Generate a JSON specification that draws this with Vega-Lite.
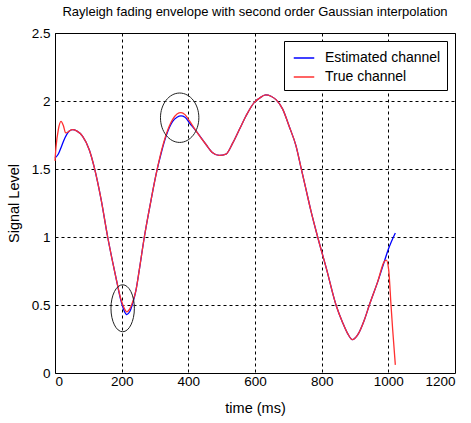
{
  "$schema": "https://vega.github.io/schema/vega-lite/v6.json",
  "width": 400,
  "height": 340,
  "autosize": {"type": "none"},
  "padding": {"left": 55, "top": 33, "right": 16, "bottom": 50},
  "background": "white",
  "title": {
    "text": "Rayleigh fading envelope with second order Gaussian interpolation",
    "font": "Liberation Sans",
    "fontSize": 13,
    "fontWeight": "normal",
    "color": "black",
    "anchor": "middle",
    "offset": 7
  },
  "config": {
    "view": {"stroke": "black", "strokeWidth": 1},
    "axis": {
      "domain": false,
      "ticks": false,
      "grid": true,
      "gridColor": "black",
      "gridDash": [3, 3],
      "gridWidth": 1,
      "gridOpacity": 1,
      "labelFont": "Liberation Sans",
      "labelFontSize": 13.5,
      "labelColor": "black",
      "titleFont": "Liberation Sans",
      "titleFontSize": 14.5,
      "titleFontWeight": "normal",
      "titleColor": "black"
    },
    "legend": {
      "labelFont": "Liberation Sans",
      "labelFontSize": 14,
      "labelColor": "black"
    }
  },
  "datasets": {
    "curves": [
      {"t": 0, "v": 1.58, "series": "Estimated channel"},
      {"t": 10, "v": 1.61, "series": "Estimated channel"},
      {"t": 20, "v": 1.67, "series": "Estimated channel"},
      {"t": 30, "v": 1.73, "series": "Estimated channel"},
      {"t": 43, "v": 1.78, "series": "Estimated channel"},
      {"t": 53, "v": 1.79, "series": "Estimated channel"},
      {"t": 65, "v": 1.78, "series": "Estimated channel"},
      {"t": 83, "v": 1.74, "series": "Estimated channel"},
      {"t": 103, "v": 1.64, "series": "Estimated channel"},
      {"t": 118, "v": 1.51, "series": "Estimated channel"},
      {"t": 138, "v": 1.28, "series": "Estimated channel"},
      {"t": 158, "v": 1.0, "series": "Estimated channel"},
      {"t": 183, "v": 0.7, "series": "Estimated channel"},
      {"t": 198, "v": 0.53, "series": "Estimated channel"},
      {"t": 207, "v": 0.46, "series": "Estimated channel"},
      {"t": 215, "v": 0.43, "series": "Estimated channel"},
      {"t": 224, "v": 0.45, "series": "Estimated channel"},
      {"t": 234, "v": 0.52, "series": "Estimated channel"},
      {"t": 243, "v": 0.61, "series": "Estimated channel"},
      {"t": 253, "v": 0.76, "series": "Estimated channel"},
      {"t": 268, "v": 1.0, "series": "Estimated channel"},
      {"t": 288, "v": 1.27, "series": "Estimated channel"},
      {"t": 305, "v": 1.48, "series": "Estimated channel"},
      {"t": 320, "v": 1.63, "series": "Estimated channel"},
      {"t": 333, "v": 1.74, "series": "Estimated channel"},
      {"t": 353, "v": 1.85, "series": "Estimated channel"},
      {"t": 366, "v": 1.88, "series": "Estimated channel"},
      {"t": 378, "v": 1.89, "series": "Estimated channel"},
      {"t": 390, "v": 1.88, "series": "Estimated channel"},
      {"t": 403, "v": 1.84, "series": "Estimated channel"},
      {"t": 423, "v": 1.78, "series": "Estimated channel"},
      {"t": 453, "v": 1.68, "series": "Estimated channel"},
      {"t": 473, "v": 1.62, "series": "Estimated channel"},
      {"t": 493, "v": 1.6, "series": "Estimated channel"},
      {"t": 513, "v": 1.61, "series": "Estimated channel"},
      {"t": 533, "v": 1.69, "series": "Estimated channel"},
      {"t": 553, "v": 1.79, "series": "Estimated channel"},
      {"t": 573, "v": 1.89, "series": "Estimated channel"},
      {"t": 598, "v": 1.99, "series": "Estimated channel"},
      {"t": 613, "v": 2.02, "series": "Estimated channel"},
      {"t": 632, "v": 2.045, "series": "Estimated channel"},
      {"t": 648, "v": 2.035, "series": "Estimated channel"},
      {"t": 663, "v": 2.01, "series": "Estimated channel"},
      {"t": 683, "v": 1.94, "series": "Estimated channel"},
      {"t": 703, "v": 1.81, "series": "Estimated channel"},
      {"t": 723, "v": 1.67, "series": "Estimated channel"},
      {"t": 738, "v": 1.51, "series": "Estimated channel"},
      {"t": 753, "v": 1.35, "series": "Estimated channel"},
      {"t": 768, "v": 1.19, "series": "Estimated channel"},
      {"t": 788, "v": 1.0, "series": "Estimated channel"},
      {"t": 815, "v": 0.76, "series": "Estimated channel"},
      {"t": 843, "v": 0.5, "series": "Estimated channel"},
      {"t": 863, "v": 0.37, "series": "Estimated channel"},
      {"t": 878, "v": 0.29, "series": "Estimated channel"},
      {"t": 892, "v": 0.245, "series": "Estimated channel"},
      {"t": 908, "v": 0.28, "series": "Estimated channel"},
      {"t": 928, "v": 0.39, "series": "Estimated channel"},
      {"t": 943, "v": 0.5, "series": "Estimated channel"},
      {"t": 968, "v": 0.67, "series": "Estimated channel"},
      {"t": 988, "v": 0.82, "series": "Estimated channel"},
      {"t": 1000, "v": 0.91, "series": "Estimated channel"},
      {"t": 1021, "v": 1.03, "series": "Estimated channel"},
      {"t": 0, "v": 1.56, "series": "True channel"},
      {"t": 3, "v": 1.66, "series": "True channel"},
      {"t": 10, "v": 1.79, "series": "True channel"},
      {"t": 18, "v": 1.85, "series": "True channel"},
      {"t": 25, "v": 1.82, "series": "True channel"},
      {"t": 32, "v": 1.765, "series": "True channel"},
      {"t": 38, "v": 1.77, "series": "True channel"},
      {"t": 43, "v": 1.78, "series": "True channel"},
      {"t": 53, "v": 1.79, "series": "True channel"},
      {"t": 65, "v": 1.78, "series": "True channel"},
      {"t": 83, "v": 1.74, "series": "True channel"},
      {"t": 103, "v": 1.64, "series": "True channel"},
      {"t": 118, "v": 1.51, "series": "True channel"},
      {"t": 138, "v": 1.28, "series": "True channel"},
      {"t": 158, "v": 1.0, "series": "True channel"},
      {"t": 183, "v": 0.7, "series": "True channel"},
      {"t": 198, "v": 0.54, "series": "True channel"},
      {"t": 207, "v": 0.48, "series": "True channel"},
      {"t": 215, "v": 0.45, "series": "True channel"},
      {"t": 224, "v": 0.47, "series": "True channel"},
      {"t": 234, "v": 0.53, "series": "True channel"},
      {"t": 243, "v": 0.61, "series": "True channel"},
      {"t": 253, "v": 0.76, "series": "True channel"},
      {"t": 268, "v": 1.0, "series": "True channel"},
      {"t": 288, "v": 1.27, "series": "True channel"},
      {"t": 305, "v": 1.48, "series": "True channel"},
      {"t": 320, "v": 1.64, "series": "True channel"},
      {"t": 333, "v": 1.75, "series": "True channel"},
      {"t": 353, "v": 1.865, "series": "True channel"},
      {"t": 366, "v": 1.905, "series": "True channel"},
      {"t": 378, "v": 1.915, "series": "True channel"},
      {"t": 390, "v": 1.9, "series": "True channel"},
      {"t": 403, "v": 1.855, "series": "True channel"},
      {"t": 423, "v": 1.78, "series": "True channel"},
      {"t": 453, "v": 1.68, "series": "True channel"},
      {"t": 473, "v": 1.62, "series": "True channel"},
      {"t": 493, "v": 1.6, "series": "True channel"},
      {"t": 513, "v": 1.61, "series": "True channel"},
      {"t": 533, "v": 1.69, "series": "True channel"},
      {"t": 553, "v": 1.79, "series": "True channel"},
      {"t": 573, "v": 1.89, "series": "True channel"},
      {"t": 598, "v": 1.99, "series": "True channel"},
      {"t": 613, "v": 2.02, "series": "True channel"},
      {"t": 632, "v": 2.045, "series": "True channel"},
      {"t": 648, "v": 2.035, "series": "True channel"},
      {"t": 663, "v": 2.01, "series": "True channel"},
      {"t": 683, "v": 1.94, "series": "True channel"},
      {"t": 703, "v": 1.81, "series": "True channel"},
      {"t": 723, "v": 1.67, "series": "True channel"},
      {"t": 738, "v": 1.51, "series": "True channel"},
      {"t": 753, "v": 1.35, "series": "True channel"},
      {"t": 768, "v": 1.19, "series": "True channel"},
      {"t": 788, "v": 1.0, "series": "True channel"},
      {"t": 815, "v": 0.76, "series": "True channel"},
      {"t": 843, "v": 0.5, "series": "True channel"},
      {"t": 863, "v": 0.37, "series": "True channel"},
      {"t": 878, "v": 0.29, "series": "True channel"},
      {"t": 892, "v": 0.245, "series": "True channel"},
      {"t": 908, "v": 0.28, "series": "True channel"},
      {"t": 928, "v": 0.39, "series": "True channel"},
      {"t": 943, "v": 0.5, "series": "True channel"},
      {"t": 968, "v": 0.67, "series": "True channel"},
      {"t": 988, "v": 0.82, "series": "True channel"},
      {"t": 994, "v": 0.83, "series": "True channel"},
      {"t": 1001, "v": 0.76, "series": "True channel"},
      {"t": 1008, "v": 0.5, "series": "True channel"},
      {"t": 1013, "v": 0.32, "series": "True channel"},
      {"t": 1021, "v": 0.06, "series": "True channel"}
    ],
    "ellipseA": [{"t": 374, "v": 1.877}],
    "ellipseB": [{"t": 203, "v": 0.476}]
  },
  "layer": [
    {
      "data": {"name": "curves"},
      "mark": {"type": "line", "interpolate": "monotone", "strokeWidth": 1.3},
      "encoding": {
        "x": {
          "field": "t", "type": "quantitative",
          "scale": {"domain": [0, 1200], "nice": false, "zero": false},
          "axis": {"values": [0, 200, 400, 600, 800, 1000, 1200], "format": "d", "title": "time (ms)", "labelPadding": 1, "titlePadding": 14}
        },
        "y": {
          "field": "v", "type": "quantitative",
          "scale": {"domain": [0, 2.5], "nice": false},
          "axis": {"values": [0, 0.5, 1, 1.5, 2, 2.5], "format": "~g", "title": "Signal Level", "labelPadding": 5, "titlePadding": 10}
        },
        "color": {
          "field": "series", "type": "nominal",
          "scale": {"domain": ["Estimated channel", "True channel"], "range": ["#0000ff", "#ff3030"]},
          "legend": {
            "title": null,
            "orient": "top-right",
            "offset": 8,
            "fillColor": "white",
            "strokeColor": "black",
            "padding": 6,
            "symbolType": "stroke",
            "symbolSize": 420,
            "symbolStrokeWidth": 1.5,
            "symbolOffset": 3,
            "labelOffset": 10,
            "rowPadding": 1
          }
        }
      }
    },
    {
      "data": {"name": "ellipseA"},
      "mark": {"type": "point", "shape": "M -0.777 0 A 0.777 1 0 1 1 0.777 0 A 0.777 1 0 1 1 -0.777 0 Z", "size": 2440, "filled": false, "stroke": "#222222", "strokeWidth": 1, "opacity": 1},
      "encoding": {
        "x": {"field": "t", "type": "quantitative"},
        "y": {"field": "v", "type": "quantitative"}
      }
    },
    {
      "data": {"name": "ellipseB"},
      "mark": {"type": "point", "shape": "M -0.498 0 A 0.498 1 0 1 1 0.498 0 A 0.498 1 0 1 1 -0.498 0 Z", "size": 2209, "filled": false, "stroke": "#222222", "strokeWidth": 1, "opacity": 1},
      "encoding": {
        "x": {"field": "t", "type": "quantitative"},
        "y": {"field": "v", "type": "quantitative"}
      }
    }
  ]
}
